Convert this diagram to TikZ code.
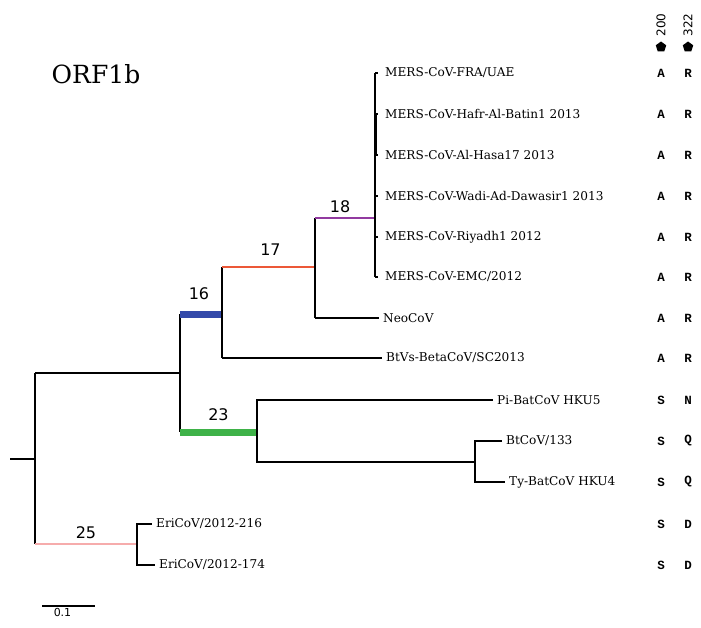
\documentclass[tikz,border=0pt]{standalone}
\usepackage{fontspec}
\setmainfont{DejaVu Serif}
\newfontfamily\supfont{DejaVu Sans}
\newfontfamily\sitefont{Liberation Mono}
\usepackage{xcolor}
\usetikzlibrary{shapes.geometric}

\definecolor{brblue}{RGB}{52,74,170}
\definecolor{brgreen}{RGB}{62,178,72}
\definecolor{brred}{RGB}{236,88,56}
\definecolor{brpurple}{RGB}{146,58,160}
\definecolor{brpink}{RGB}{246,172,172}

\begin{document}
\begin{tikzpicture}[x=1pt,y=-1pt]
\tikzstyle{branch}=[black,line width=1.3pt]
\tikzstyle{tip}=[anchor=west,inner sep=4pt,font=\fontsize{12.1}{14}\selectfont]
\tikzstyle{site}=[inner sep=0pt,font=\sitefont\bfseries\fontsize{12.5}{14}\selectfont]
\tikzstyle{support}=[inner sep=3pt,text=black,font=\supfont\fontsize{16}{19}\selectfont]
\tikzstyle{sitemark}=[regular polygon,regular polygon sides=5,fill=black,inner sep=0pt,minimum size=11pt]
\useasboundingbox (0,0) rectangle (701,628);

\node[font=\fontsize{25}{30}\selectfont] (title) at (96,74) {ORF1b};

\coordinate (stub) at (10,459);
\coordinate (root) at (35,459);
\coordinate (nA) at (180,373);
\coordinate (n16) at (222,314);
\coordinate (n17) at (315,267);
\coordinate (n18) at (375,218);
\coordinate (n23) at (257,432);
\coordinate (nBt) at (475,462);
\coordinate (n25) at (137,544);

\node[tip,inner sep=7pt] (fra) at (378,73) {MERS-CoV-FRA/UAE};
\node[tip,inner sep=7pt] (hafr) at (378,114) {MERS-CoV-Hafr-Al-Batin1 2013};
\node[tip,inner sep=7pt] (hasa) at (378,155) {MERS-CoV-Al-Hasa17 2013};
\node[tip,inner sep=7pt] (wadi) at (378,196) {MERS-CoV-Wadi-Ad-Dawasir1 2013};
\node[tip,inner sep=7pt] (riy) at (378,237) {MERS-CoV-Riyadh1 2012};
\node[tip,inner sep=7pt] (emc) at (378,277) {MERS-CoV-EMC/2012};
\node[tip] (neo) at (379,318) {NeoCoV};
\node[tip] (btvs) at (382,358) {BtVs-BetaCoV/SC2013};
\node[tip] (hku5) at (493,400) {Pi-BatCoV HKU5};
\node[tip] (bt133) at (502,441) {BtCoV/133};
\node[tip] (hku4) at (505,482) {Ty-BatCoV HKU4};
\node[tip] (eri216) at (152,524) {EriCoV/2012-216};
\node[tip] (eri174) at (155,565) {EriCoV/2012-174};

\draw[branch] (stub) -- (root);
\draw[branch] (root |- nA) -- (root |- n25);
\draw[branch] (root |- nA) -- (nA);
\draw[brpink,line width=1.1pt] (root |- n25) -- node[support,above=1.5pt] {25} (n25);
\draw[branch] (nA |- n16) -- (nA |- n23);
\draw[brblue,line width=7pt] (nA |- n16) -- node[support,above=8pt,xshift=-2pt] {16} (n16);
\draw[brgreen,line width=7pt] (nA |- n23) -- node[support,above=5pt] {23} (n23);
\draw[branch] (n16 |- n17) -- (n16 |- btvs);
\draw[brred,line width=1.1pt] (n16 |- n17) -- node[support,above=8pt,xshift=2pt] {17} (n17);
\draw[branch] (n16 |- btvs) -- (btvs.west);
\draw[branch] (n17 |- n18) -- (n17 |- neo);
\draw[brpurple,line width=1.1pt] (n17 |- n18) -- node[support,above=2pt,xshift=-5pt] {18} (n18);
\draw[branch] (n17 |- neo) -- (neo.west);
\draw[branch] (n18 |- fra) -- (n18 |- emc);
\draw[black,line width=3pt] (n18 |- hafr) -- (n18 |- hasa);
\foreach \t in {fra,hafr,hasa,wadi,riy,emc}
  \draw[branch] (n18 |- \t) -- (\t.west);
\draw[branch] (n23) |- (hku5.west);
\draw[branch] (n23) |- (nBt);
\draw[branch] (nBt) |- (bt133.west);
\draw[branch] (nBt) |- (hku4.west);
\draw[branch] (n25) |- (eri216.west);
\draw[branch] (n25) |- (eri174.west);

\coordinate (sb0) at (42,606);
\coordinate (sb1) at (95,606);
\draw[branch] (sb0) -- node[below=0.5pt,xshift=-6pt,inner sep=1pt,font=\supfont\fontsize{11}{12}\selectfont] (sblabel) {0.1} (sb1);

\coordinate (colA) at (661,0);
\coordinate (colB) at (688,0);
\node[rotate=90,font=\supfont\fontsize{12}{14}\selectfont] (h200) at (661,25) {200};
\node[rotate=90,font=\supfont\fontsize{12}{14}\selectfont] (h322) at (688,25) {322};
\node[sitemark] (m200) at (661,47) {};
\node[sitemark] (m322) at (688,47) {};
\foreach \t/\a/\b in {fra/A/R,hafr/A/R,hasa/A/R,wadi/A/R,riy/A/R,emc/A/R,neo/A/R,btvs/A/R,hku5/S/N,bt133/S/Q,hku4/S/Q,eri216/S/D,eri174/S/D}{
  \node[site] at (colA |- \t) {\a};
  \node[site] at (colB |- \t) {\b};
}
\end{tikzpicture}
\end{document}
